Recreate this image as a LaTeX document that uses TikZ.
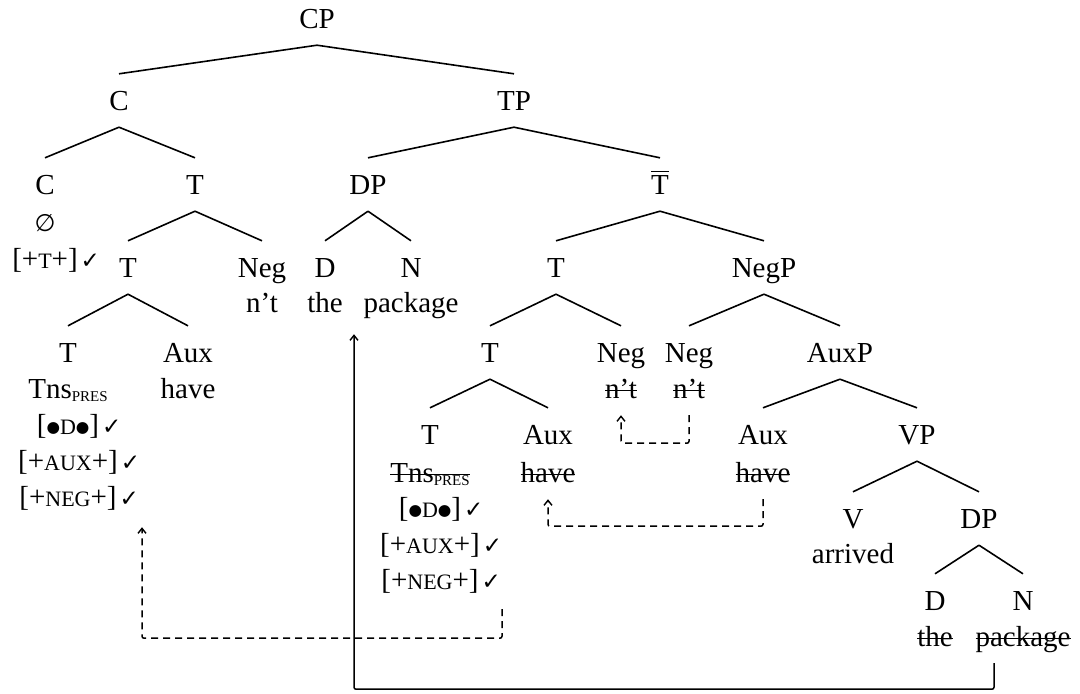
\documentclass[tikz,border=0pt]{standalone}
\usepackage{fontspec}
\setmainfont{Liberation Serif}
\newfontfamily\symfont{DejaVu Sans}
\usetikzlibrary{arrows.meta,calc}

% small capitals, faked with reduced upper case
\newcommand\fsc[1]{{\fontsize{22}{22}\selectfont #1}}
% checked feature: the tick hangs to the right of the centred bracket
\newcommand\chk{\rlap{\hspace{3pt}{\symfont\fontsize{23}{23}\selectfont ✓}}}
\newcommand\feat[1]{[#1]\chk}
\newcommand\bul{\raisebox{1.5pt}{\symfont\fontsize{15.5}{15.5}\selectfont ●}}
\newcommand\pres{\raisebox{-3.5pt}{\fontsize{15}{15}\selectfont PRES}}
\newcommand\nullhd{{\symfont\fontsize{24}{24}\selectfont ∅}}
% struck-out (deleted) copies
\newsavebox\strkbox
\newcommand\strk[1]{\sbox\strkbox{#1}\rlap{\rule[7pt]{\wd\strkbox}{1.5pt}}\usebox\strkbox}
% T-bar
\newcommand\tbar{\sbox\strkbox{T}\rlap{\rule[\dimexpr\ht\strkbox+3pt\relax]{\wd\strkbox}{1.5pt}}\usebox\strkbox}

\tikzset{
  lbl/.style={font=\fontsize{29}{34}\selectfont, inner xsep=0pt, inner ysep=13pt,
              text height=23pt, text depth=4pt, anchor=base},
  branch/.style={line width=1.6pt},
  mv/.style={line width=1.5pt, rounded corners=2pt,
             -{Straight Barb[length=5pt,width=8pt,line width=1.4pt]}},
  mvd/.style={mv, dash pattern=on 7pt off 5pt},
}

\begin{document}
\begin{tikzpicture}[x=1pt,y=-1pt]
\useasboundingbox (0,0) rectangle (1080,694);

% ---- labels ----
\node[lbl] (cp)   at (317,28)  {CP};
\node[lbl] (c1)   at (119,110) {C};
\node[lbl] (tp)   at (514,110) {TP};

\node[lbl] (c2)    at (45,194)  {C};
\node[lbl] (cnull) at (45,231)  {\nullhd};
\node[lbl] (cfeat) at (45,268)  {\feat{+\fsc{T}+}};
\node[lbl] (t1)    at (195,194) {T};
\node[lbl] (dp1)   at (368,194) {DP};
\node[lbl] (tb)    at (660,194) {\tbar};

\node[lbl] (t2)    at (128,277) {T};
\node[lbl] (neg1)  at (262,277) {Neg};
\node[lbl] (neg1w) at (262,312) {n’t};
\node[lbl] (d1)    at (325,277) {D};
\node[lbl] (the1)  at (325,312) {the};
\node[lbl] (n1)    at (411,277) {N};
\node[lbl] (pkg1)  at (411,312) {package};
\node[lbl] (t3)    at (556,277) {T};
\node[lbl] (negp)  at (764,277) {NegP};

\node[lbl] (t4)    at (68,362)  {T};
\node[lbl] (tns1)  at (68,398)  {Tns\pres};
\node[lbl] (f1a)   at (68,434)  {\feat{\bul\fsc{D}\bul}};
\node[lbl] (f1b)   at (68,470)  {\feat{+\fsc{AUX}+}};
\node[lbl] (f1c)   at (68,506)  {\feat{+\fsc{NEG}+}};
\node[lbl] (aux1)  at (188,362) {Aux};
\node[lbl] (have1) at (188,398) {have};
\node[lbl] (t5)    at (490,362) {T};
\node[lbl] (neg2)  at (621,362) {Neg};
\node[lbl] (neg2w) at (621,398) {\strk{n’t}};
\node[lbl] (neg3)  at (689,362) {Neg};
\node[lbl] (neg3w) at (689,398) {\strk{n’t}};
\node[lbl] (auxp)  at (840,362) {AuxP};

\node[lbl] (t6)    at (430,444) {T};
\node[lbl] (tns2)  at (430,482) {\strk{Tns\pres}};
\node[lbl] (f2a)   at (430,517) {\feat{\bul\fsc{D}\bul}};
\node[lbl] (f2b)   at (430,553) {\feat{+\fsc{AUX}+}};
\node[lbl] (f2c)   at (430,589) {\feat{+\fsc{NEG}+}};
\node[lbl] (aux2)  at (548,444) {Aux};
\node[lbl] (have2) at (548,482) {\strk{have}};
\node[lbl] (aux3)  at (763,444) {Aux};
\node[lbl] (have3) at (763,482) {\strk{have}};
\node[lbl] (vp)    at (917,444) {VP};

\node[lbl] (v)     at (853,528) {V};
\node[lbl] (arr)   at (853,563) {arrived};
\node[lbl] (dp2)   at (979,528) {DP};

\node[lbl] (d2)    at (935,610) {D};
\node[lbl] (the2)  at (935,646) {\strk{the}};
\node[lbl] (n2)    at (1023,610) {N};
\node[lbl] (pkg2)  at (1023,646) {\strk{package}};

% ---- branches ----
\foreach \p/\c in {cp/c1, cp/tp, c1/c2, c1/t1, tp/dp1, tp/tb, t1/t2, t1/neg1,
                   dp1/d1, dp1/n1, tb/t3, tb/negp, t2/t4, t2/aux1, t3/t5, t3/neg2,
                   negp/neg3, negp/auxp, t5/t6, t5/aux2, auxp/aux3, auxp/vp,
                   vp/v, vp/dp2, dp2/d2, dp2/n2}
  \draw[branch] (\p.south) -- (\c.north);

% ---- movement paths ----
\coordinate (dpsrc) at ($(pkg2.south)+(-29,0)$);
\coordinate (dptgt) at ($(pkg1.south)+(-57,5)$);
\draw[mv] (dpsrc) -- ++(0,26) -| (dptgt);

\coordinate (tsrc) at ($(f2c.south)+(72,3)$);
\coordinate (ttgt) at ($(f1c.south)+(74,4)$);
\draw[mvd] (tsrc) -- ++(0,29) -| (ttgt);

\draw[mvd] (have3.south) -- ++(0,27) -| (have2.south);
\draw[mvd] (neg3w.south) -- ++(0,28) -| (neg2w.south);
\end{tikzpicture}
\end{document}
